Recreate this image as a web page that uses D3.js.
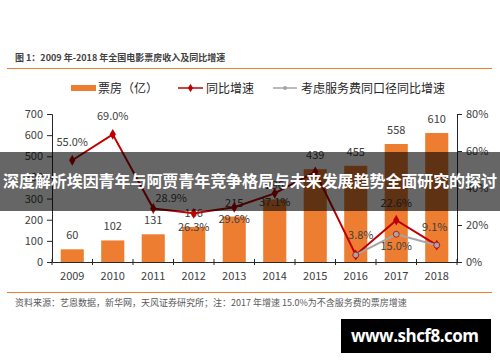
<!DOCTYPE html>
<html>
<head>
<meta charset="utf-8">
<script src="https://cdn.jsdelivr.net/npm/d3@7"></script>
<style>
  body { margin: 0; background: #fff; }
  svg { display: block; font-family: "Noto Sans CJK SC", "Noto Sans", sans-serif; }
</style>
</head>
<body>
<div id="chart"></div>
<script>
// chart data
var years = ["2009", "2010", "2011", "2012", "2013", "2014", "2015", "2016", "2017", "2018"];
var boxOffice = [60, 102, 131, 166, 215, 296, 439, 455, 558, 610];
var growth = [55.0, 69.0, 28.9, 26.3, 29.6, 37.1, 48.7, 3.8, 22.6, 9.1];
var growthAdj = [null, null, null, null, null, null, null, 3.8, 15.0, 9.1];
var leftTicks = [0, 100, 200, 300, 400, 500, 600, 700];
var rightTicks = [0, 20, 40, 60, 80];

var titleText = "图 1：2009 年-2018 年全国电影票房收入及同比增速";
var sourceText = "资料来源：艺恩数据，新华网，天风证券研究所；注：2017 年增速 15.0%为不含服务费的票房增速";
var legendNames = ["票房（亿）", "同比增速", "考虑服务费同口径同比增速"];
var bannerText = "深度解析埃因青年与阿贾青年竞争格局与未来发展趋势全面研究的探讨";

var width = 500, height = 362;
var orange = "#ed7d31", red = "#c00000", gray = "#a5a5a5", textCol = "#404040";

var svg = d3.select("#chart").append("svg")
  .attr("width", width)
  .attr("height", height);

// plot area
var plot = {left: 52, right: 457, top: 114, bottom: 262};

var xScale = d3.scaleBand()
  .domain(years)
  .range([plot.left, plot.right])
  .paddingInner(0.43)
  .paddingOuter(0.215);

var yLeft = d3.scaleLinear().domain([0, 700]).range([plot.bottom, plot.top]);
var yRight = d3.scaleLinear().domain([0, 80]).range([plot.bottom, plot.top]);

var cx = function(i) { return xScale(years[i]) + xScale.bandwidth() / 2; };

// title + rules
svg.append("text")
  .attr("x", 15).attr("y", 61)
  .style("font-size", "9px").style("font-weight", "bold").style("fill", textCol)
  .text(titleText);

svg.append("line")
  .attr("x1", 7).attr("x2", 492).attr("y1", 68.5).attr("y2", 68.5)
  .style("stroke", orange).style("stroke-width", 1);

svg.append("line")
  .attr("x1", 7).attr("x2", 492).attr("y1", 292.5).attr("y2", 292.5)
  .style("stroke", orange).style("stroke-width", 1);

svg.append("text")
  .attr("x", 15).attr("y", 306)
  .style("font-size", "9px").style("fill", "#595959")
  .text(sourceText);

// legend
var lg = svg.append("g").attr("transform", "translate(0,88)");
lg.append("rect").attr("x", 71).attr("y", -3).attr("width", 25).attr("height", 6).style("fill", orange);
lg.append("line").attr("x1", 178).attr("x2", 203).style("stroke", red).style("stroke-width", 1.5);
lg.append("path").attr("d", d3.symbol(d3.symbolDiamond, 22)()).attr("transform", "translate(190.5,0)").style("fill", red);
lg.append("line").attr("x1", 273).attr("x2", 297).style("stroke", gray).style("stroke-width", 1.5);
lg.append("circle").attr("cx", 285).attr("r", 2).style("fill", gray);
[98, 206, 301].forEach(function(x, i) {
  lg.append("text").attr("x", x).attr("y", 4.5)
    .style("font-size", "12px").style("fill", "#262626")
    .text(legendNames[i]);
});

// bars
svg.selectAll("rect.bar")
  .data(boxOffice)
  .enter().append("rect")
  .attr("class", "bar")
  .attr("x", function(d, i) { return xScale(years[i]); })
  .attr("y", function(d) { return yLeft(d); })
  .attr("width", xScale.bandwidth())
  .attr("height", function(d) { return plot.bottom - yLeft(d); })
  .style("fill", orange);

svg.selectAll("text.barlabel")
  .data(boxOffice)
  .enter().append("text")
  .attr("class", "barlabel")
  .attr("x", function(d, i) { return cx(i); })
  .attr("y", function(d) { return yLeft(d) - 10; })
  .attr("text-anchor", "middle")
  .style("font-size", "11px").style("fill", textCol)
  .text(function(d) { return d; });

// axes
var axisCol = "#262626";
var leftAxis = svg.append("g")
  .attr("transform", "translate(" + plot.left + ",0)")
  .call(d3.axisLeft(yLeft).tickValues(leftTicks).tickSize(5).tickPadding(4));
var rightAxis = svg.append("g")
  .attr("transform", "translate(" + plot.right + ",0)")
  .call(d3.axisRight(yRight).tickValues(rightTicks).tickSize(5).tickPadding(4)
    .tickFormat(function(d) { return d + "%"; }));
var bottomAxis = svg.append("g")
  .attr("transform", "translate(0," + plot.bottom + ")")
  .call(d3.axisBottom(xScale).tickSize(0).tickPadding(10));

[leftAxis, rightAxis, bottomAxis].forEach(function(a) {
  a.select(".domain").style("stroke", axisCol);
  a.selectAll(".tick line").style("stroke", axisCol);
  a.selectAll("text").style("font-size", "11px").style("fill", textCol)
    .style("font-family", "\"Noto Sans CJK SC\", sans-serif");
});

// band separator ticks on the x axis
var bounds = years.map(function(y, i) { return plot.left + i * (plot.right - plot.left) / years.length; })
  .concat([plot.right]);
svg.selectAll("line.xtick")
  .data(bounds)
  .enter().append("line")
  .attr("class", "xtick")
  .attr("x1", function(d) { return d; }).attr("x2", function(d) { return d; })
  .attr("y1", plot.bottom - 3).attr("y2", plot.bottom + 3)
  .style("stroke", axisCol);

// lines
var line = d3.line()
  .defined(function(d) { return d != null; })
  .x(function(d, i) { return cx(i); })
  .y(function(d) { return yRight(d); });

svg.append("path")
  .datum(growth)
  .attr("d", line)
  .style("fill", "none").style("stroke", red).style("stroke-width", 2);

svg.selectAll("path.rmark")
  .data(growth)
  .enter().append("path")
  .attr("class", "rmark")
  .attr("d", d3.symbol(d3.symbolDiamond, 34)())
  .attr("transform", function(d, i) { return "translate(" + cx(i) + "," + yRight(d) + ")"; })
  .style("fill", red);

svg.append("path")
  .datum(growthAdj)
  .attr("d", line)
  .style("fill", "none").style("stroke", gray).style("stroke-width", 2);

svg.selectAll("circle.gmark")
  .data(growthAdj)
  .enter().filter(function(d) { return d != null; })
  .append("circle")
  .attr("class", "gmark")
  .attr("cx", function(d, i) { return cx(years.length - 3 + i); })
  .attr("cy", function(d) { return yRight(d); })
  .attr("r", 3)
  .style("fill", gray).style("stroke", red).style("stroke-width", 0.8);

// percent labels (offset from point)
var redOffsets = [[0, -14], [0, -14], [18, -7], [0, 18], [0, 16], [0, 13], null, [5, -16], [0, -13], [-2, -14]];
growth.forEach(function(d, i) {
  if (!redOffsets[i]) return;
  svg.append("text")
    .attr("x", cx(i) + redOffsets[i][0])
    .attr("y", yRight(d) + redOffsets[i][1])
    .attr("text-anchor", "middle")
    .style("font-size", "11px").style("fill", textCol)
    .text(d.toFixed(1) + "%");
});
svg.append("text")
  .attr("x", cx(8)).attr("y", yRight(growthAdj[8]) + 16)
  .attr("text-anchor", "middle")
  .style("font-size", "11px").style("fill", textCol)
  .text(growthAdj[8].toFixed(1) + "%");

// overlay banner
svg.append("rect")
  .attr("x", 0).attr("y", 152).attr("width", width).attr("height", 59)
  .style("fill", "rgba(0,0,0,0.6)");
svg.append("text")
  .attr("x", 250).attr("y", 187)
  .attr("text-anchor", "middle")
  .attr("textLength", 494)
  .style("font-size", "16px").style("font-weight", "bold").style("fill", "#fff")
  .text(bannerText);

// watermark
svg.append("rect")
  .attr("x", 341).attr("y", 319).attr("width", 150).attr("height", 34)
  .style("fill", "#000");
svg.append("text")
  .attr("x", 351).attr("y", 342)
  .attr("textLength", 128)
  .style("font-family", "\"Open Sans\", sans-serif")
  .style("font-size", "17px").style("font-weight", "bold").style("fill", "#fff")
  .text("www.shcf8.com");
</script>
</body>
</html>
